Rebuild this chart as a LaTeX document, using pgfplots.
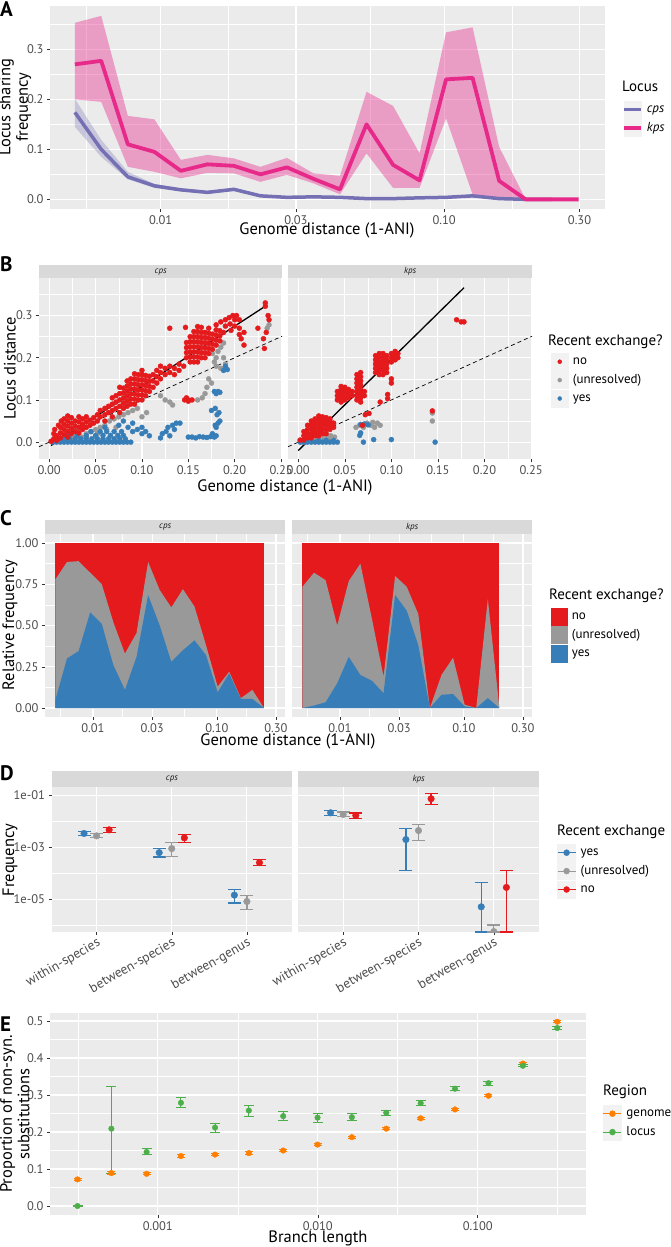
\documentclass[border=0pt]{standalone}
\usepackage{fontspec}
\setmainfont{PT Sans}
\usepackage{pgfplots}
\pgfplotsset{compat=1.18}
\definecolor{ggpanel}{HTML}{EBEBEB}
\definecolor{ggstrip}{HTML}{D9D9D9}
\definecolor{gg30}{HTML}{4D4D4D}
\definecolor{gg20}{HTML}{333333}
\definecolor{gg10}{HTML}{1A1A1A}
\definecolor{keybg}{HTML}{F2F2F2}
\definecolor{cpscol}{HTML}{7570B3}
\definecolor{kpscol}{HTML}{E7298A}
\definecolor{sred}{HTML}{E41A1C}
\definecolor{sgrey}{HTML}{999999}
\definecolor{sblue}{HTML}{377EB8}
\definecolor{sorange}{HTML}{FF7F00}
\definecolor{sgreen}{HTML}{4DAF4A}
\newcommand\tickf{\fontsize{12.5}{13}\selectfont}
\newcommand\titf{\fontsize{16.5}{17.5}\selectfont}
\newcommand\ltitf{\fontsize{15}{16}\selectfont}
\newcommand\legf{\fontsize{13}{14}\selectfont}
\newcommand\stripf{\fontsize{9}{9}\selectfont\itshape}
\newcommand\letf{\fontsize{21}{21}\selectfont\bfseries}
\pgfplotsset{
  ggaxis/.style={
    scale only axis,
    axis background/.style={fill=ggpanel},
    axis line style={draw=none},
    grid=both,
    major grid style={white, line width=1.1pt},
    minor grid style={white, line width=0.5pt},
    tick pos=left,
    tick align=outside,
    major tick length=3pt,
    minor tick length=0pt,
    tick style={color=gg20, line width=0.5pt},
    ticklabel style={font=\tickf, text=gg30},
    legend cell align=left,
  },
  gglegend/.style 2 args={legend style={draw=none, fill=none, at={(#1,#2)}, anchor=north west,
    inner sep=0pt, outer sep=0pt, row sep=1pt, column sep=4pt, font=\legf,
    nodes={inner sep=0.5pt}}},
}
\begin{document}
\begin{tikzpicture}
\path[use as bounding box] (0pt,0pt) rectangle (671pt,-1247pt);
% ================= Panel A =================
\begin{axis}[ggaxis, at={(50pt,-6pt)}, anchor=north west, width=555pt, height=203pt,
  xmode=log, xmin=0.00407, xmax=0.369, ymin=-0.0193, ymax=0.3867,
  xtick={0.01,0.03,0.1,0.3}, xticklabels={0.01,0.03,0.10,0.30},
  minor xtick={0.00548,0.01732,0.05477,0.1732},
  ytick={0,0.1,0.2,0.3}, yticklabels={0.0,0.1,0.2,0.3},
  minor ytick={0.05,0.15,0.25,0.35},
  gglegend={1.0306}{0.532}]
\addplot[forget plot, draw=none, fill=cpscol, fill opacity=0.3] coordinates {
(0.00498,0.201) (0.00617,0.119) (0.00766,0.055) (0.00950,0.031) (0.01178,0.022) (0.01461,0.017)
(0.01812,0.023) (0.02248,0.009) (0.02788,0.006) (0.03458,0.007) (0.04289,0.006) (0.05320,0.003)
(0.06598,0.003) (0.08184,0.005) (0.10151,0.006) (0.1259,0.010) (0.1562,0.003) (0.1937,0.001) (0.2402,0.0)
(0.2402,0.0) (0.1937,0.0) (0.1562,0.0) (0.1259,0.004) (0.10151,0.002) (0.08184,0.001) (0.06598,0.0005)
(0.05320,0.0005) (0.04289,0.002) (0.03458,0.003) (0.02788,0.003) (0.02248,0.005) (0.01812,0.017)
(0.01461,0.011) (0.01178,0.016) (0.00950,0.023) (0.00766,0.040) (0.00617,0.085) (0.00498,0.145)} -- cycle;
\addplot[forget plot, draw=none, fill=kpscol, fill opacity=0.4] coordinates {
(0.00498,0.353) (0.00617,0.367) (0.00766,0.167) (0.00950,0.160) (0.01178,0.079) (0.01461,0.089)
(0.01812,0.082) (0.02248,0.065) (0.02788,0.083) (0.03458,0.052) (0.04289,0.047) (0.05320,0.215)
(0.06598,0.187) (0.08184,0.092) (0.10151,0.334) (0.1259,0.344) (0.1562,0.105) (0.1937,0.0)
(0.2402,0.0) (0.2980,0.0)
(0.2980,0.0) (0.2402,0.0) (0.1937,0.0) (0.1562,0.002) (0.1259,0.010) (0.10151,0.162) (0.08184,0.023)
(0.06598,0.023) (0.05320,0.092) (0.04289,0.010) (0.03458,0.032) (0.02788,0.049) (0.02248,0.035)
(0.01812,0.052) (0.01461,0.053) (0.01178,0.042) (0.00950,0.055) (0.00766,0.065) (0.00617,0.195)
(0.00498,0.200)} -- cycle;
\addplot[forget plot, cpscol, line width=3.5pt, line join=round] coordinates {
(0.00498,0.174) (0.00617,0.100) (0.00766,0.045) (0.00950,0.027) (0.01178,0.019) (0.01461,0.014)
(0.01812,0.020) (0.02248,0.007) (0.02788,0.004) (0.03458,0.005) (0.04289,0.004) (0.05320,0.0015)
(0.06598,0.0015) (0.08184,0.003) (0.10151,0.004) (0.1259,0.007) (0.1562,0.0015) (0.1937,0.0) (0.2402,0.0)};
\addplot[forget plot, kpscol, line width=3.8pt, line join=round] coordinates {
(0.00498,0.270) (0.00617,0.277) (0.00766,0.110) (0.00950,0.095) (0.01178,0.057) (0.01461,0.070)
(0.01812,0.067) (0.02248,0.050) (0.02788,0.064) (0.03458,0.041) (0.04289,0.020) (0.05320,0.150)
(0.06598,0.069) (0.08184,0.038) (0.10151,0.240) (0.1259,0.243) (0.1562,0.037) (0.1937,0.0)
(0.2402,0.0) (0.2980,0.0)};
\addlegendimage{legend image code/.code={\fill[keybg] (0pt,-8.5pt) rectangle (17pt,8.5pt); \draw[cpscol, line width=3.5pt] (0pt,0pt) -- (17pt,0pt);}}
\addlegendentry{\itshape cps}
\addlegendimage{legend image code/.code={\fill[keybg] (0pt,-8.5pt) rectangle (17pt,8.5pt); \draw[kpscol, line width=3.5pt] (0pt,0pt) -- (17pt,0pt);}}
\addlegendentry{\itshape kps}
\end{axis}
% ================= Panel B =================
\begin{axis}[ggaxis, at={(39pt,-278pt)}, anchor=north west, width=243pt, height=181pt,
  xmin=-0.011, xmax=0.251, ymin=-0.040, ymax=0.389,
  xtick={0,0.05,0.1,0.15,0.2,0.25}, xticklabels={0.00,0.05,0.10,0.15,0.20,0.25},
  minor xtick={0.025,0.075,0.125,0.175,0.225},
  ytick={0,0.1,0.2,0.3}, yticklabels={0.0,0.1,0.2,0.3}, minor ytick={0.05,0.15,0.25,0.35}]
\addplot[forget plot, only marks, mark=*, mark size=2.5pt, sgrey, mark options={draw=none, fill=sgrey}] coordinates {
(0.01,0.003) (0.018,0.008) (0.025,0.01) (0.03,0.015) (0.035,0.012) (0.04,0.02) (0.045,0.025) (0.05,0.03)
(0.055,0.035) (0.06,0.04) (0.065,0.05) (0.07,0.055) (0.075,0.06) (0.08,0.065) (0.085,0.07) (0.09,0.075)
(0.095,0.08) (0.052,0.02) (0.062,0.03) (0.072,0.035) (0.1,0.06) (0.105,0.07) (0.12,0.11) (0.125,0.1)
(0.13,0.095) (0.133,0.088) (0.16,0.1) (0.165,0.105) (0.168,0.115) (0.17,0.13) (0.172,0.15) (0.175,0.14)
(0.178,0.19) (0.18,0.2) (0.182,0.215) (0.185,0.225) (0.188,0.2) (0.19,0.185) (0.185,0.175) (0.18,0.18)
(0.176,0.21) (0.235,0.27) (0.237,0.278) (0.188,0.235) (0.04,0.01) (0.03,0.03) (0.02,0.005)};
\addplot[forget plot, only marks, mark=*, mark size=2.5pt, sblue, mark options={draw=none, fill=sblue}] coordinates {
(0.004,0) (0.008,0) (0.012,0) (0.016,0) (0.020,0) (0.024,0) (0.028,0) (0.032,0) (0.036,0) (0.040,0)
(0.044,0) (0.048,0) (0.052,0) (0.056,0) (0.060,0) (0.064,0) (0.068,0) (0.072,0) (0.076,0) (0.080,0)
(0.084,0) (0.088,0)
(0.01,0.008) (0.016,0.008) (0.022,0.008) (0.028,0.008) (0.034,0.008) (0.04,0.008) (0.046,0.008)
(0.052,0.008) (0.058,0.008) (0.064,0.008) (0.07,0.008) (0.076,0.008) (0.082,0.008)
(0.02,0.016) (0.03,0.016) (0.04,0.016) (0.05,0.016) (0.058,0.016) (0.066,0.016) (0.074,0.016) (0.08,0.016)
(0.045,0.025) (0.055,0.025) (0.062,0.025) (0.07,0.025) (0.078,0.025)
(0.075,0.04) (0.08,0.05) (0.085,0.035) (0.06,0.035) (0.09,0.025) (0.095,0.03) (0.1,0.02) (0.104,0.025)
(0.108,0.015) (0.1,0.035) (0.09,0.045)
(0.12,0.01) (0.122,0.02) (0.126,0.025) (0.13,0.015) (0.133,0.04) (0.137,0.045) (0.141,0.045) (0.135,0.03) (0.128,0.035)
(0.15,0.012) (0.154,0.012) (0.158,0.01) (0.162,0.013) (0.166,0.012) (0.17,0.011) (0.174,0.013) (0.178,0.012)
(0.18,0.015) (0.176,0.02)
(0.18,0.035) (0.182,0.045) (0.184,0.05) (0.179,0.04)
(0.175,0.075) (0.179,0.08) (0.183,0.07) (0.181,0.065)
(0.178,0.12) (0.182,0.12) (0.18,0.115) (0.184,0.118)
(0.188,0.17) (0.192,0.172) (0.19,0.18)};
\addplot[forget plot, only marks, mark=*, mark size=2.5pt, sred, mark options={draw=none, fill=sred}] coordinates {
(0.002,0.002) (0.005,0.008) (0.008,0.004) (0.008,0.015) (0.012,0.01) (0.012,0.022) (0.012,0.035)
(0.016,0.018) (0.016,0.03) (0.016,0.042) (0.016,0.055) (0.02,0.012) (0.02,0.025) (0.02,0.038) (0.02,0.05)
(0.02,0.062) (0.024,0.02) (0.024,0.032) (0.024,0.045) (0.024,0.058) (0.028,0.025) (0.028,0.038)
(0.028,0.05) (0.032,0.022) (0.032,0.035) (0.032,0.048) (0.032,0.06) (0.036,0.03) (0.036,0.042)
(0.036,0.055) (0.04,0.035) (0.04,0.048) (0.04,0.06) (0.044,0.04) (0.044,0.052) (0.048,0.045)
(0.048,0.058) (0.052,0.05) (0.052,0.065) (0.006,0.03) (0.01,0.04) (0.013,0.05) (0.005,0.02)
(0.055,0.06) (0.055,0.075) (0.06,0.05) (0.06,0.065) (0.06,0.08) (0.064,0.07) (0.064,0.085) (0.068,0.06)
(0.068,0.075) (0.068,0.09) (0.068,0.105) (0.072,0.08) (0.072,0.095) (0.072,0.11) (0.076,0.07)
(0.076,0.085) (0.076,0.1) (0.076,0.115) (0.076,0.13)
(0.080,0.080) (0.080,0.092) (0.080,0.104) (0.080,0.116) (0.080,0.128)
(0.084,0.085) (0.084,0.097) (0.084,0.109) (0.084,0.121) (0.084,0.133) (0.084,0.145)
(0.088,0.090) (0.088,0.102) (0.088,0.114) (0.088,0.126) (0.088,0.138) (0.088,0.150)
(0.092,0.090) (0.092,0.102) (0.092,0.114) (0.092,0.126) (0.092,0.138) (0.092,0.150) (0.092,0.162)
(0.096,0.100) (0.096,0.112) (0.096,0.124) (0.096,0.136) (0.096,0.148) (0.096,0.160)
(0.100,0.100) (0.100,0.112) (0.100,0.124) (0.100,0.136) (0.100,0.148) (0.100,0.160) (0.100,0.170)
(0.104,0.110) (0.104,0.122) (0.104,0.134) (0.104,0.146) (0.104,0.158)
(0.108,0.120) (0.108,0.132) (0.108,0.144) (0.108,0.156)
(0.112,0.13) (0.112,0.145) (0.112,0.16) (0.116,0.14) (0.116,0.155) (0.116,0.17) (0.12,0.15) (0.12,0.165)
(0.12,0.18) (0.125,0.16) (0.125,0.175) (0.13,0.165) (0.13,0.18) (0.135,0.16) (0.135,0.175) (0.14,0.17)
(0.14,0.185) (0.145,0.18) (0.13,0.27) (0.147,0.272)
(0.146,0.1) (0.15,0.1) (0.154,0.1) (0.15,0.097) (0.148,0.105)
(0.148,0.200) (0.148,0.212) (0.148,0.224) (0.148,0.236)
(0.152,0.190) (0.152,0.202) (0.152,0.214) (0.152,0.226) (0.152,0.238) (0.152,0.250)
(0.156,0.190) (0.156,0.202) (0.156,0.214) (0.156,0.226) (0.156,0.238) (0.156,0.250) (0.156,0.262)
(0.160,0.190) (0.160,0.202) (0.160,0.214) (0.160,0.226) (0.160,0.238) (0.160,0.250) (0.160,0.262) (0.160,0.274)
(0.164,0.200) (0.164,0.212) (0.164,0.224) (0.164,0.236) (0.164,0.248) (0.164,0.260) (0.164,0.272)
(0.168,0.200) (0.168,0.212) (0.168,0.224) (0.168,0.236) (0.168,0.248) (0.168,0.260)
(0.172,0.210) (0.172,0.222) (0.172,0.234) (0.172,0.246) (0.172,0.258) (0.172,0.270)
(0.176,0.220) (0.176,0.232) (0.176,0.244) (0.176,0.256)
(0.180,0.230) (0.180,0.242) (0.180,0.254) (0.180,0.266) (0.180,0.278)
(0.184,0.240) (0.184,0.252) (0.184,0.264)
(0.185,0.285) (0.19,0.29) (0.194,0.295) (0.198,0.3) (0.2,0.29) (0.202,0.3) (0.205,0.29) (0.19,0.275)
(0.195,0.28) (0.2,0.275) (0.205,0.27) (0.21,0.26) (0.207,0.245) (0.21,0.23) (0.205,0.255) (0.196,0.265) (0.188,0.26)
(0.233,0.33) (0.233,0.322) (0.236,0.3) (0.237,0.29) (0.231,0.245) (0.232,0.222) (0.234,0.26) (0.225,0.27)};
\addplot[forget plot, black, line width=1.3pt] coordinates {(0.002,-0.008) (0.235,0.325)};
\addplot[forget plot, black, line width=0.7pt, dash pattern=on 4pt off 3pt] coordinates {(-0.011,-0.011) (0.251,0.251)};
\end{axis}
\begin{axis}[ggaxis, at={(288pt,-278pt)}, anchor=north west, width=244pt, height=181pt,
  xmin=-0.011, xmax=0.251, ymin=-0.040, ymax=0.389,
  xtick={0,0.05,0.1,0.15,0.2,0.25}, xticklabels={0.00,0.05,0.10,0.15,0.20,0.25},
  minor xtick={0.025,0.075,0.125,0.175,0.225},
  ytick={0,0.1,0.2,0.3}, yticklabel={\mbox{}}, ytick style={draw=none}, minor ytick={0.05,0.15,0.25,0.35},
  gglegend={1.078}{0.5856}]
\addplot[forget plot, only marks, mark=*, mark size=2.5pt, sgrey, mark options={draw=none, fill=sgrey}] coordinates {
(0.005,0.0) (0.012,0.003) (0.02,0.005) (0.027,0.01) (0.031,0.013) (0.035,0.015) (0.039,0.012) (0.033,0.008)
(0.062,0.035) (0.066,0.04) (0.07,0.035) (0.074,0.045) (0.078,0.04) (0.082,0.035) (0.085,0.045) (0.088,0.04)
(0.08,0.047) (0.144,0.069) (0.144,0.05)};
\addplot[forget plot, only marks, mark=*, mark size=2.5pt, sblue, mark options={draw=none, fill=sblue}] coordinates {
(0.002,0) (0.006,0) (0.010,0) (0.014,0) (0.018,0) (0.022,0) (0.026,0) (0.030,0) (0.034,0) (0.038,0) (0.042,0)
(0.006,0.004) (0.014,0.004) (0.022,0.004) (0.03,0.004) (0.038,0.004)
(0.067,0.042) (0.071,0.043) (0.075,0.041) (0.066,0.016) (0.067,0.022) (0.07,0.0) (0.081,0.006) (0.1,0.006) (0.147,0.0)};
\addplot[forget plot, only marks, mark=*, mark size=2.5pt, sred, mark options={draw=none, fill=sred}] coordinates {
(0.002,0.005) (0.006,0.005) (0.006,0.015) (0.006,0.025)
(0.010,0.01) (0.010,0.02) (0.010,0.03) (0.010,0.04)
(0.014,0.01) (0.014,0.02) (0.014,0.03) (0.014,0.04) (0.014,0.05)
(0.018,0.015) (0.018,0.025) (0.018,0.035) (0.018,0.045) (0.018,0.055)
(0.022,0.015) (0.022,0.025) (0.022,0.035) (0.022,0.045) (0.022,0.055) (0.022,0.062)
(0.026,0.02) (0.026,0.03) (0.026,0.04) (0.026,0.05) (0.026,0.06)
(0.030,0.02) (0.030,0.03) (0.030,0.04) (0.030,0.05) (0.030,0.058)
(0.034,0.03) (0.034,0.04) (0.034,0.05) (0.034,0.055)
(0.038,0.035) (0.038,0.045)
(0.042,0.1) (0.042,0.11) (0.042,0.12)
(0.046,0.095) (0.046,0.105) (0.046,0.115) (0.046,0.125) (0.046,0.132)
(0.050,0.1) (0.050,0.11) (0.050,0.12) (0.050,0.13)
(0.054,0.105) (0.054,0.115) (0.054,0.125)
(0.058,0.11) (0.058,0.12)
(0.063,0.1) (0.063,0.11) (0.063,0.12) (0.063,0.13) (0.063,0.14) (0.063,0.15) (0.063,0.16)
(0.067,0.095) (0.067,0.105) (0.067,0.115) (0.067,0.125) (0.067,0.135) (0.067,0.145) (0.067,0.155) (0.067,0.165)
(0.071,0.11) (0.071,0.12)
(0.072,0.065) (0.076,0.068) (0.069,0.04) (0.088,0.095) (0.096,0.103) (0.096,0.113) (0.1,0.14) (0.1,0.15)
(0.083,0.165) (0.083,0.175) (0.083,0.185) (0.083,0.195) (0.083,0.205)
(0.087,0.16) (0.087,0.17) (0.087,0.18) (0.087,0.19) (0.087,0.2) (0.087,0.21)
(0.091,0.16) (0.091,0.17) (0.091,0.18) (0.091,0.19) (0.091,0.2) (0.091,0.21)
(0.095,0.165) (0.095,0.175) (0.095,0.185) (0.095,0.195) (0.095,0.205)
(0.1,0.19) (0.1,0.2) (0.1,0.21) (0.104,0.195) (0.104,0.205) (0.104,0.215) (0.107,0.2) (0.107,0.21)
(0.17,0.29) (0.175,0.285) (0.178,0.285) (0.144,0.074)};
\addplot[forget plot, black, line width=1.3pt] coordinates {(0.0,-0.02) (0.178,0.366)};
\addplot[forget plot, black, line width=0.7pt, dash pattern=on 4pt off 3pt] coordinates {(-0.011,-0.011) (0.251,0.251)};
\addlegendimage{legend image code/.code={\fill[keybg] (0pt,-8.5pt) rectangle (17pt,8.5pt); \fill[sred] (8.5pt,0pt) circle (2pt);}}
\addlegendentry{no}
\addlegendimage{legend image code/.code={\fill[keybg] (0pt,-8.5pt) rectangle (17pt,8.5pt); \fill[sgrey] (8.5pt,0pt) circle (2pt);}}
\addlegendentry{(unresolved)}
\addlegendimage{legend image code/.code={\fill[keybg] (0pt,-8.5pt) rectangle (17pt,8.5pt); \fill[sblue] (8.5pt,0pt) circle (2pt);}}
\addlegendentry{yes}
\end{axis}
% ================= Panel C =================
\begin{axis}[ggaxis, at={(45pt,-534pt)}, anchor=north west, width=240pt, height=183pt,
  xmode=log, xmin=0.0041, xmax=0.355, ymin=-0.0545, ymax=1.0545,
  xtick={0.01,0.03,0.1,0.3}, xticklabels={0.01,0.03,0.10,0.30},
  minor xtick={0.00548,0.01732,0.05477,0.1732},
  ytick={0,0.25,0.5,0.75,1}, yticklabels={0.00,0.25,0.50,0.75,1.00},
  minor ytick={0.125,0.375,0.625,0.875}]
\addplot[forget plot, draw=none, fill=sred] coordinates {(0.00498,1) (0.2402,1)} \closedcycle;
\addplot[forget plot, draw=none, fill=sgrey] coordinates {
(0.00498,0.78) (0.00617,0.885) (0.00766,0.89) (0.00950,0.82) (0.01178,0.75) (0.01461,0.52) (0.01812,0.33)
(0.02248,0.455) (0.02788,0.885) (0.03458,0.715) (0.04289,0.61) (0.05320,0.72) (0.06598,0.615) (0.08184,0.38)
(0.10151,0.13) (0.1259,0.22) (0.1562,0.06) (0.1937,0.11) (0.2402,0.0)} \closedcycle;
\addplot[forget plot, draw=none, fill=sblue] coordinates {
(0.00498,0.05) (0.00617,0.30) (0.00766,0.345) (0.00950,0.58) (0.01178,0.51) (0.01461,0.26) (0.01812,0.11)
(0.02248,0.31) (0.02788,0.685) (0.03458,0.50) (0.04289,0.28) (0.05320,0.35) (0.06598,0.41) (0.08184,0.32)
(0.10151,0.095) (0.1259,0.21) (0.1562,0.055) (0.1937,0.055) (0.2402,0.0)} \closedcycle;
\end{axis}
\begin{axis}[ggaxis, at={(292pt,-534pt)}, anchor=north west, width=240pt, height=183pt,
  xmode=log, xmin=0.0041, xmax=0.355, ymin=-0.0545, ymax=1.0545,
  xtick={0.01,0.03,0.1,0.3}, xticklabels={0.01,0.03,0.10,0.30},
  minor xtick={0.00548,0.01732,0.05477,0.1732},
  ytick={0,0.25,0.5,0.75,1}, yticklabel={\mbox{}}, ytick style={draw=none},
  minor ytick={0.125,0.375,0.625,0.875},
  gglegend={1.079}{0.5956}]
\addplot[forget plot, draw=none, fill=sred] coordinates {(0.00498,1) (0.1937,1)} \closedcycle;
\addplot[forget plot, draw=none, fill=sgrey] coordinates {
(0.00498,0.735) (0.00617,0.82) (0.00766,0.775) (0.00950,0.50) (0.01178,0.77) (0.01461,0.875) (0.01812,0.54)
(0.02248,0.19) (0.02788,0.80) (0.03458,0.735) (0.04289,0.57) (0.05320,0.0) (0.06598,0.20) (0.08184,0.305)
(0.10151,0.02) (0.1259,0.0) (0.1562,0.66) (0.1937,0.0)} \closedcycle;
\addplot[forget plot, draw=none, fill=sblue] coordinates {
(0.00498,0.0) (0.00617,0.015) (0.00766,0.035) (0.00950,0.15) (0.01178,0.31) (0.01461,0.20) (0.01812,0.165)
(0.02248,0.09) (0.02788,0.685) (0.03458,0.59) (0.04289,0.38) (0.05320,0.0) (0.06598,0.08) (0.08184,0.085)
(0.10151,0.01) (0.1259,0.0) (0.1562,0.06) (0.1937,0.0)} \closedcycle;
\addlegendimage{legend image code/.code={\fill[sred] (0pt,-8.5pt) rectangle (16pt,8.5pt);}}
\addlegendentry{no}
\addlegendimage{legend image code/.code={\fill[sgrey] (0pt,-8.5pt) rectangle (16pt,8.5pt);}}
\addlegendentry{(unresolved)}
\addlegendimage{legend image code/.code={\fill[sblue] (0pt,-8.5pt) rectangle (16pt,8.5pt);}}
\addlegendentry{yes}
\end{axis}
% ================= Panel D =================
\begin{axis}[ggaxis, at={(51.5pt,-787pt)}, anchor=north west, width=240.5pt, height=145pt,
  ymode=log, ymin=5.4e-7, ymax=0.21, xmin=0.4, xmax=3.6, clip marker paths=true,
  xtick={1,2,3}, xticklabels={within-species,between-species,between-genus},
  xticklabel style={rotate=30, anchor=north east, font=\fontsize{13.5}{14}\selectfont, inner sep=1pt},
  ytick={1e-1,1e-3,1e-5}, minor ytick={1e-2,1e-4,1e-6}, minor xtick={},
  yticklabels={1e-01,1e-03,1e-05}]
\addplot[forget plot, only marks, mark=*, mark size=3.3pt, sblue, mark options={draw=none, fill=sblue},
  error bars/.cd, y dir=both, y explicit, error bar style={line width=1.2pt, sblue},
  error mark options={rotate=90, draw=sblue, line width=1.2pt, mark size=6.5pt}]
  table[x=x, y=y, y error plus=ep, y error minus=em] {
x y ep em
0.833 3.4e-3 0.6e-3 0.6e-3
1.833 6.2e-4 2.7e-4 2.0e-4
2.833 1.43e-5 0.93e-5 0.72e-5
};
\addplot[forget plot, only marks, mark=*, mark size=3.3pt, sgrey, mark options={draw=none, fill=sgrey},
  error bars/.cd, y dir=both, y explicit, error bar style={line width=1.2pt, sgrey},
  error mark options={rotate=90, draw=sgrey, line width=1.2pt, mark size=6.5pt}]
  table[x=x, y=y, y error plus=ep, y error minus=em] {
x y ep em
1 2.75e-3 0.55e-3 0.45e-3
2 8.9e-4 5.9e-4 4.4e-4
3 8.1e-6 5.7e-6 4.0e-6
};
\addplot[forget plot, only marks, mark=*, mark size=3.3pt, sred, mark options={draw=none, fill=sred},
  error bars/.cd, y dir=both, y explicit, error bar style={line width=1.2pt, sred},
  error mark options={rotate=90, draw=sred, line width=1.2pt, mark size=6.5pt}]
  table[x=x, y=y, y error plus=ep, y error minus=em] {
x y ep em
1.167 4.7e-3 1.1e-3 0.9e-3
2.167 2.3e-3 0.9e-3 0.74e-3
3.167 2.55e-4 0.85e-4 0.59e-4
};
\end{axis}
\begin{axis}[ggaxis, at={(298pt,-787pt)}, anchor=north west, width=241pt, height=145pt,
  ymode=log, ymin=5.4e-7, ymax=0.21, xmin=0.4, xmax=3.6, clip marker paths=true,
  xtick={1,2,3}, xticklabels={within-species,between-species,between-genus},
  xticklabel style={rotate=30, anchor=north east, font=\fontsize{13.5}{14}\selectfont, inner sep=1pt},
  ytick={1e-1,1e-3,1e-5}, minor ytick={1e-2,1e-4,1e-6}, minor xtick={},
  yticklabel={\mbox{}}, ytick style={draw=none}, gglegend={1.0747}{0.607}]
\addplot[forget plot, only marks, mark=*, mark size=3.3pt, sblue, mark options={draw=none, fill=sblue},
  error bars/.cd, y dir=both, y explicit, error bar style={line width=1.2pt, sblue},
  error mark options={rotate=90, draw=sblue, line width=1.2pt, mark size=6.5pt}]
  table[x=x, y=y, y error plus=ep, y error minus=em] {
x y ep em
0.833 2.13e-2 0.47e-2 0.45e-2
1.833 1.98e-3 3.12e-3 1.855e-3
2.833 5.05e-6 3.995e-5 4.51e-6
};
\addplot[forget plot, only marks, mark=*, mark size=3.3pt, sgrey, mark options={draw=none, fill=sgrey},
  error bars/.cd, y dir=both, y explicit, error bar style={line width=1.2pt, sgrey},
  error mark options={rotate=90, draw=sgrey, line width=1.2pt, mark size=6.5pt}]
  table[x=x, y=y, y error plus=ep, y error minus=em] {
x y ep em
1 1.84e-2 0.46e-2 0.34e-2
2 4.4e-3 2.9e-3 2.53e-3
3 5.6e-7 4.4e-7 0.2e-7
};
\addplot[forget plot, only marks, mark=*, mark size=3.3pt, sred, mark options={draw=none, fill=sred},
  error bars/.cd, y dir=both, y explicit, error bar style={line width=1.2pt, sred},
  error mark options={rotate=90, draw=sred, line width=1.2pt, mark size=6.5pt}]
  table[x=x, y=y, y error plus=ep, y error minus=em] {
x y ep em
1.167 1.68e-2 0.42e-2 0.38e-2
2.167 7.4e-2 4.2e-2 2.8e-2
3.167 2.83e-5 9.67e-5 2.776e-5
};
\addlegendimage{legend image code/.code={\fill[keybg] (0pt,-8.5pt) rectangle (18pt,8.5pt); \draw[sblue, line width=1.2pt] (0pt,0pt) -- (18pt,0pt); \fill[sblue] (9pt,0pt) circle (3pt);}}
\addlegendentry{yes}
\addlegendimage{legend image code/.code={\fill[keybg] (0pt,-8.5pt) rectangle (18pt,8.5pt); \draw[sgrey, line width=1.2pt] (0pt,0pt) -- (18pt,0pt); \fill[sgrey] (9pt,0pt) circle (3pt);}}
\addlegendentry{(unresolved)}
\addlegendimage{legend image code/.code={\fill[keybg] (0pt,-8.5pt) rectangle (18pt,8.5pt); \draw[sred, line width=1.2pt] (0pt,0pt) -- (18pt,0pt); \fill[sred] (9pt,0pt) circle (3pt);}}
\addlegendentry{no}
\end{axis}
% ================= Panel E =================
\begin{axis}[ggaxis, at={(50pt,-1013pt)}, anchor=north west, width=536pt, height=202pt,
  xmode=log, xmin=2.12e-4, xmax=0.475, ymin=-0.0243, ymax=0.5216,
  xtick={0.001,0.01,0.1}, xticklabels={0.001,0.010,0.100},
  minor xtick={3.162e-4,3.162e-3,3.162e-2,0.3162},
  ytick={0,0.1,0.2,0.3,0.4,0.5}, yticklabels={0.0,0.1,0.2,0.3,0.4,0.5},
  minor ytick={0.05,0.15,0.25,0.35,0.45},
  gglegend={1.0317}{0.5446}]
\addplot[forget plot, only marks, mark=*, mark size=2.8pt, sorange, mark options={draw=none, fill=sorange},
  error bars/.cd, y dir=both, y explicit, error bar style={line width=1pt, sorange},
  error mark options={rotate=90, draw=sorange, line width=1pt, mark size=4pt}]
  table[x=x, y=y, y error plus=e, y error minus=e] {
x y e
3.15e-4 0.072 0.003
5.13e-4 0.089 0.003
8.52e-4 0.087 0.003
1.396e-3 0.135 0.003
2.28e-3 0.139 0.003
3.71e-3 0.143 0.003
6.08e-3 0.150 0.003
9.97e-3 0.166 0.003
1.634e-2 0.186 0.003
2.68e-2 0.209 0.003
4.40e-2 0.237 0.003
7.21e-2 0.261 0.003
0.1167 0.298 0.003
0.1914 0.385 0.003
0.314 0.498 0.003
};
\addplot[forget plot, only marks, mark=*, mark size=2.8pt, sgreen, mark options={draw=none, fill=sgreen},
  error bars/.cd, y dir=both, y explicit, error bar style={line width=1pt, sgreen},
  error mark options={rotate=90, draw=sgreen, line width=1pt, mark size=5pt}]
  table[x=x, y=y, y error plus=ep, y error minus=em] {
x y ep em
3.15e-4 0.000 0.002 0.002
5.13e-4 0.209 0.114 0.120
8.52e-4 0.146 0.009 0.008
1.396e-3 0.279 0.013 0.013
2.28e-3 0.212 0.011 0.012
3.71e-3 0.258 0.014 0.015
6.08e-3 0.243 0.012 0.011
9.97e-3 0.239 0.012 0.012
1.634e-2 0.240 0.010 0.009
2.68e-2 0.252 0.007 0.008
4.40e-2 0.278 0.006 0.006
7.21e-2 0.317 0.005 0.005
0.1167 0.332 0.005 0.005
0.1914 0.379 0.003 0.003
0.314 0.481 0.004 0.004
};
\addlegendimage{legend image code/.code={\fill[keybg] (0pt,-8.5pt) rectangle (18pt,8.5pt); \draw[sorange, line width=1pt] (0pt,0pt) -- (18pt,0pt); \fill[sorange] (9pt,0pt) circle (3pt);}}
\addlegendentry{genome}
\addlegendimage{legend image code/.code={\fill[keybg] (0pt,-8.5pt) rectangle (18pt,8.5pt); \draw[sgreen, line width=1pt] (0pt,0pt) -- (18pt,0pt); \fill[sgreen] (9pt,0pt) circle (3pt);}}
\addlegendentry{locus}
\end{axis}
% ================= strips =================
\foreach \x/\w/\t/\h/\s in {39/243/cps/265/13, 288/244/kps/265/13, 45/240/cps/520/14, 292/240/kps/520/14, 51.5/240.5/cps/771/16, 298/241/kps/771/16}{
  \node[fill=ggstrip, minimum width=\w pt, minimum height=\s pt, inner sep=0pt, anchor=north west, text=gg10, font=\stripf] at (\x pt,-\h pt) {\t};
}
% ================= letters =================
\node[anchor=base west, inner sep=0pt, font=\letf] at (0pt,-17pt) {A};
\node[anchor=base west, inner sep=0pt, font=\letf] at (0pt,-271pt) {B};
\node[anchor=base west, inner sep=0pt, font=\letf] at (0pt,-525pt) {C};
\node[anchor=base west, inner sep=0pt, font=\letf] at (0pt,-780pt) {D};
\node[anchor=base west, inner sep=0pt, font=\letf] at (0pt,-1031pt) {E};
% ================= axis titles =================
\node[font=\titf] at (327pt,-230pt) {Genome distance (1-ANI)};
\node[font=\titf] at (285pt,-487pt) {Genome distance (1-ANI)};
\node[font=\titf] at (288pt,-741pt) {Genome distance (1-ANI)};
\node[font=\titf] at (318pt,-1238pt) {Branch length};
\node[font=\titf, rotate=90, align=center] at (15pt,-107pt) {Locus sharing\\frequency};
\node[font=\titf, rotate=90] at (10pt,-368pt) {Locus distance};
\node[font=\titf, rotate=90] at (10pt,-625pt) {Relative frequency};
\node[font=\titf, rotate=90] at (10pt,-860pt) {Frequency};
\node[font=\titf, rotate=90, align=center] at (15pt,-1114pt) {Proportion of non-syn.\\substitutions};
% ================= legend titles =================
\node[font=\ltitf, anchor=base west, inner sep=0pt] at (622pt,-92pt) {Locus};
\node[font=\ltitf, anchor=base west, inner sep=0pt] at (548pt,-345pt) {Recent exchange?};
\node[font=\ltitf, anchor=base west, inner sep=0pt] at (549pt,-599pt) {Recent exchange?};
\node[font=\ltitf, anchor=base west, inner sep=0pt] at (557pt,-835pt) {Recent exchange};
\node[font=\ltitf, anchor=base west, inner sep=0pt] at (603pt,-1095pt) {Region};
\end{tikzpicture}
\end{document}
